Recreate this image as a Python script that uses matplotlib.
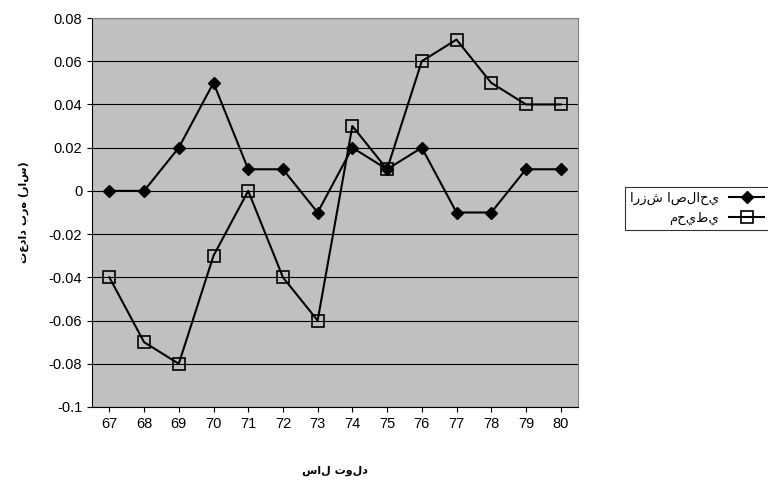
import matplotlib
matplotlib.use("Agg")
import matplotlib.pyplot as plt

years = ["67", "68", "69", "70", "71", "72", "73", "74", "75", "76", "77", "78", "79", "80"]
breeding = [0, 0, 0.02, 0.05, 0.01, 0.01, -0.01, 0.02, 0.01, 0.02, -0.01, -0.01, 0.01, 0.01]
environ = [-0.04, -0.07, -0.08, -0.03, 0, -0.04, -0.06, 0.03, 0.01, 0.06, 0.07, 0.05, 0.04, 0.04]

lbl_breed = "ارزش اصلاحي"
lbl_env = "محيطي"
ylab = "تعداد بره (راس)"
xlab = "سال تولد"

plt.rcParams['font.family'] = ['Liberation Sans', 'DejaVu Sans']
fig = plt.figure(figsize=(7.68, 4.83), dpi=100)
ax = fig.add_axes([92/768, 1-407/483, (578-92)/768, (407-18)/483])
ax.set_facecolor("#c0c0c0")
x = list(range(len(years)))
ax.plot(x, breeding, color="black", marker="D", markersize=6, lw=1.5, label=lbl_breed)
ax.plot(x, environ, color="black", marker="s", markersize=9, mfc="none", mew=1.2, lw=1.5, label=lbl_env)
ax.set_xlim(-0.5, len(years) - 0.5)
ax.set_ylim(-0.1, 0.08)
ax.set_yticks([i / 100 for i in range(-10, 9, 2)])
ax.set_yticklabels(["-0.1" if v == -10 else ("0" if v == 0 else f"{v/100:.2f}") for v in range(-10, 9, 2)])
ax.set_xticks(x)
ax.set_xticklabels(years)
ax.yaxis.grid(True, color="black", lw=0.8)
ax.set_axisbelow(True)
ax.tick_params(labelsize=10.5, direction="out")
for s in ax.spines.values():
    s.set_color("#808080")
ax.spines['left'].set_color("black")
ax.spines['bottom'].set_color("black")
ax.set_ylabel(ylab, fontsize=8, fontweight="bold", labelpad=14, family=['DejaVu Sans'])
ax.set_xlabel(xlab, fontsize=8, fontweight="bold", labelpad=25, family=['DejaVu Sans'])
leg = fig.legend(loc="upper left", bbox_to_anchor=(618/768, 1-180/483), frameon=True,
                 fancybox=False, edgecolor="black", fontsize=9.5, handlelength=2.6,
                 markerfirst=False, prop={'family': ['DejaVu Sans'], 'size': 9.5})
leg.get_frame().set_linewidth(0.8)
fig.savefig("out.png", dpi=100)
